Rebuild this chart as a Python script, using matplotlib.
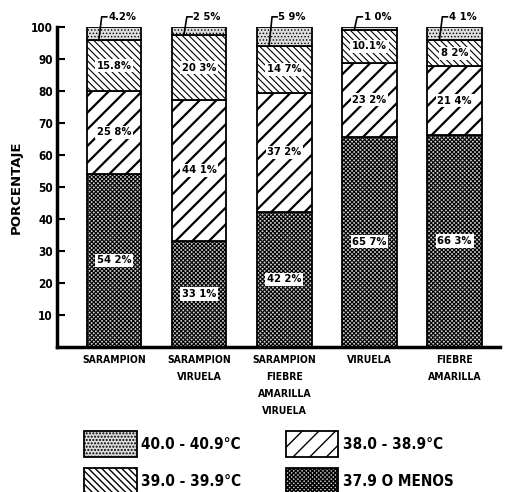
import numpy as np
import matplotlib.pyplot as plt

plt.rcParams['font.family'] = ['DejaVu Sans']
plt.rcParams['font.stretch'] = 'condensed'
plt.rcParams['font.weight'] = 'bold'

# datos
categorias = ['SARAMPION', 'SARAMPION\nVIRUELA', 'SARAMPION\nFIEBRE\nAMARILLA\nVIRUELA',
              'VIRUELA', 'FIEBRE\nAMARILLA']
rangos = ['37.9 O MENOS', '38.0 - 38.9°C', '39.0 - 39.9°C', '40.0 - 40.9°C']
pct_379 = [54.2, 33.1, 42.2, 65.7, 66.3]
pct_380 = [25.8, 44.1, 37.2, 23.2, 21.4]
pct_390 = [15.8, 20.3, 14.7, 10.1, 8.2]
pct_400 = [4.2, 2.5, 5.9, 1.0, 4.1]
etiquetas = [
    ['54 2%', '33 1%', '42 2%', '65 7%', '66 3%'],
    ['25 8%', '44 1%', '37 2%', '23 2%', '21 4%'],
    ['15.8%', '20 3%', '14 7%', '10.1%', '8 2%'],
    ['4.2%', '2 5%', '5 9%', '1 0%', '4 1%'],
]

series = [pct_379, pct_380, pct_390, pct_400]
# estilos de relleno (abajo -> arriba)
estilos = [
    dict(hatch='xxxxxxxx', facecolor='#cccccc', lw=0.8),
    dict(hatch='//', facecolor='white', lw=1.6),
    dict(hatch='\\\\\\\\\\', facecolor='white', lw=0.8),
    dict(hatch='.....', facecolor='#dddddd', lw=0.6),
]

fig = plt.figure(figsize=(5.09, 4.92), dpi=100)
ax = fig.add_axes([0.112, 0.295, 0.87, 0.65])

x = np.arange(len(categorias))
ancho = 0.64
base = np.zeros(len(categorias))
barras = []
for vals, est in zip(series, estilos):
    with plt.rc_context({'hatch.linewidth': est['lw']}):
        b = ax.bar(x, vals, ancho, bottom=base, facecolor=est['facecolor'],
                   edgecolor='black', hatch=est['hatch'], linewidth=1.3)
    barras.append(b)
    base = base + np.array(vals)

# etiquetas dentro de las barras
base = np.zeros(len(categorias))
for k in range(3):
    vals = np.array(series[k])
    for i in range(len(categorias)):
        ax.text(x[i], base[i] + vals[i] / 2, etiquetas[k][i], ha='center', va='center',
                fontsize=8, fontweight='bold',
                bbox=dict(boxstyle='square,pad=0.15', fc='white', ec='none'))
    base = base + vals

# etiquetas superiores con linea guia
for i in range(len(categorias)):
    x0 = x[i] - 0.18
    ax.plot([x0, x0 + 0.035, x0 + 0.095], [base[i], 103.2, 103.2], color='black',
            lw=1.2, clip_on=False)
    ax.text(x0 + 0.11, 103.2, etiquetas[3][i], ha='left', va='center',
            fontsize=8, fontweight='bold')

ax.set_xlim(-0.67, 4.53)
ax.set_ylim(0, 100)
ax.set_yticks(np.arange(10, 101, 10))
ax.tick_params(axis='y', direction='in', length=6, width=1.5, labelsize=8.5, pad=3)
ax.set_xticks(x)
ax.set_xticklabels(categorias, fontsize=7.5, fontweight='bold', linespacing=1.85)
ax.tick_params(axis='x', length=0, pad=6)
for s in ['top', 'right']:
    ax.spines[s].set_visible(False)
ax.spines['left'].set_linewidth(2.5)
ax.spines['bottom'].set_linewidth(2.5)
ax.set_ylabel('PORCENTAJE', fontsize=9.5, fontweight='bold', fontstretch='normal',
              labelpad=6)

handles = [barras[3][0], barras[2][0], barras[1][0], barras[0][0]]
textos = [rangos[3], rangos[2], rangos[1], rangos[0]]
fig.legend(handles, textos, loc='upper left', bbox_to_anchor=(0.165, 0.124),
           ncol=2, frameon=False, fontsize=11, handlelength=3.45, handleheight=2.2,
           handletextpad=0.3, columnspacing=2.9, labelspacing=0.75, borderpad=0,
           borderaxespad=0)

fig.savefig('out.png', dpi=100)
